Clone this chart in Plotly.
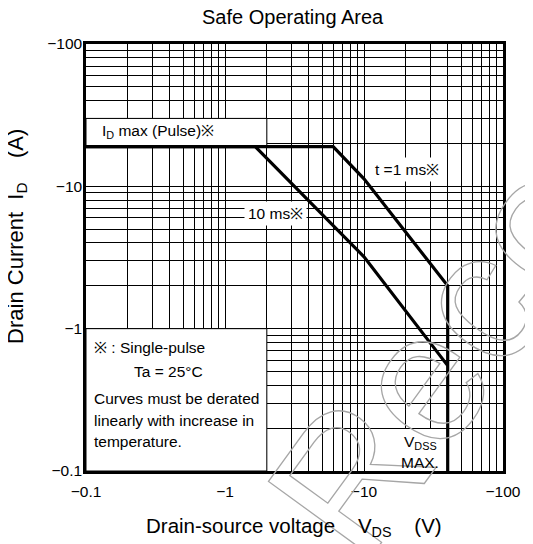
import plotly.graph_objects as go

# ---------------- data ----------------
x_tick_vals = [0.1, 1, 10, 100]
x_tick_text = ["\u22120.1", "\u22121", "\u221210", "\u2212100"]
y_tick_vals = [0.1, 1, 10, 100]
y_tick_text = ["\u22120.1", "\u22121", "\u221210", "\u2212100"]

# |VDS| (V) and |ID| (A) break points of the SOA curves
vds_1ms = [0.1, 6.0, 10.0, 40.0, 40.0]
id_1ms = [19.0, 19.0, 11.3, 2.0, 0.1]
vds_10ms = [0.1, 1.65, 10.0, 40.0]
id_10ms = [19.0, 19.0, 3.2, 0.55]

decades = [0.1, 1, 10]
minor_mult = [2, 3, 4, 5, 6, 7, 8, 9]
minor_vals = [d * m for d in decades for m in minor_mult]

FONT = "Liberation Sans, Arial, sans-serif"

fig = go.Figure()


def mask(x0, x1, y0, y1, border):
    fig.add_trace(go.Scatter(
        x=[x0, x1, x1, x0, x0], y=[y0, y0, y1, y1, y0],
        mode="lines", fill="toself", fillcolor="white",
        line=dict(color="black" if border else "white", width=1 if border else 0),
        hoverinfo="skip", showlegend=False))


# white areas that hide the grid behind labels
mask(0.1, 2.0, 0.1, 1.0, True)      # note box
mask(0.1, 2.0, 19.0, 30.0, True)    # ID max label box
mask(16.7, 40.0, 0.1, 0.197, False)  # VDSS MAX label box

fig.add_trace(go.Scatter(x=vds_10ms, y=id_10ms, mode="lines",
                         line=dict(color="black", width=3.2),
                         hoverinfo="skip", showlegend=False))
fig.add_trace(go.Scatter(x=vds_1ms, y=id_1ms, mode="lines",
                         line=dict(color="black", width=3.2),
                         hoverinfo="skip", showlegend=False))

axis_common = dict(
    type="log", range=[-1, 2],
    showline=True, mirror=True, linecolor="black", linewidth=2.5,
    showgrid=True, gridcolor="black", gridwidth=1,
    zeroline=False, tickmode="array",
    tickfont=dict(family=FONT, size=15.5, color="black"),
    minor=dict(tickmode="array", tickvals=minor_vals, showgrid=True,
               gridcolor="black", gridwidth=1, ticks=""),
)

fig.update_xaxes(**axis_common, tickvals=x_tick_vals, ticktext=x_tick_text,
                 ticks="outside", tickcolor="rgba(0,0,0,0)", ticklen=5)
fig.update_yaxes(**axis_common, tickvals=y_tick_vals, ticktext=y_tick_text,
                 ticks="", ticklabelstandoff=-2)

ann = []


def txt(text, x, y, size=15.5, xanchor="left", bg=None, angle=0, pad=1):
    d = dict(text=text, x=x, y=y, xref="paper", yref="paper", showarrow=False,
             xanchor=xanchor, yanchor="middle", textangle=angle,
             font=dict(family=FONT, size=size, color="black"), borderpad=pad)
    if bg:
        d["bgcolor"] = bg
    ann.append(d)


# watermark (outlined letters)
ann.append(dict(
    text='<span style="fill:none;stroke:#a6a6a6;stroke-width:1.3px">Recommended</span>',
    x=1.424, y=1.049, xref="paper", yref="paper", showarrow=False,
    xanchor="center", yanchor="middle", textangle=-54,
    font=dict(family=FONT, size=185, color="#a6a6a6")))

txt("Safe Operating Area", 0.496, 1.064, size=20, xanchor="center")
txt("Drain-source voltage\u00a0\u00a0\u00a0\u00a0V<sub>DS</sub>\u00a0\u00a0\u00a0\u00a0(V)",
    0.499, -0.131, size=20.5, xanchor="center")
txt("Drain Current\u00a0\u00a0I<sub>D</sub>\u00a0\u00a0\u00a0\u00a0(A)",
    -0.166, 0.55, size=22, xanchor="center", angle=-90)

txt("I<sub>D</sub> max (Pulse)\u203b", 0.034, 0.795)
txt("t =1 ms\u203b", 0.684, 0.705, bg="white", pad=3)
txt("10 ms\u203b", 0.379, 0.6035, bg="white", pad=3)
txt("V<sub>DSS</sub>", 0.801, 0.066, xanchor="center")
txt("MAX.", 0.801, 0.021, xanchor="center")

txt("\u203b : Single-pulse", 0.0144, 0.290)
txt("Ta = 25\u00b0C", 0.110, 0.232)
txt("Curves must be derated", 0.0144, 0.169)
txt("linearly with increase in", 0.0144, 0.119)
txt("temperature.", 0.0144, 0.068)

# the page body has an 8px margin: shift the figure so the plot box lands
# where the reference has it, and keep the page inside the window
fig.update_layout(
    width=525, height=536,
    margin=dict(l=78, r=30, t=36, b=73),
    paper_bgcolor="white", plot_bgcolor="white",
    showlegend=False, annotations=ann,
    font=dict(family=FONT, color="black"),
)

fig.write_html("out.html")
